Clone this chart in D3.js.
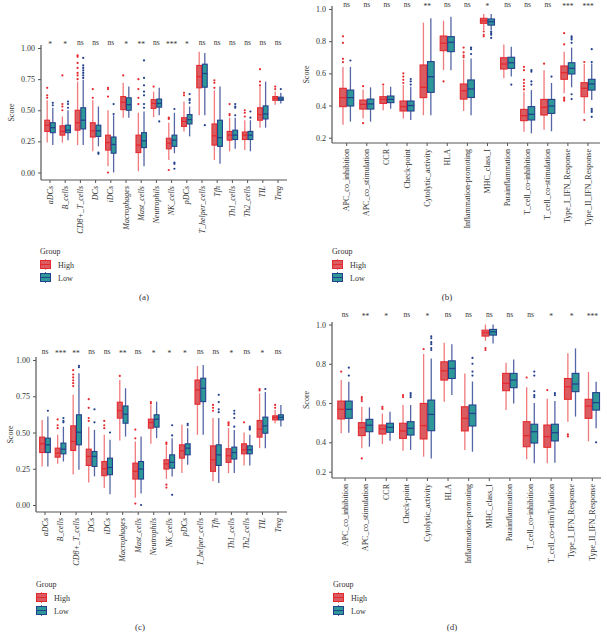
<!DOCTYPE html>
<html><head><meta charset="utf-8">
<script src="https://cdn.jsdelivr.net/npm/d3@7"></script>
<style>body{margin:0;background:#fff}text{font-family:"Liberation Serif","DejaVu Serif",serif}</style>
</head><body>
<svg id="c" width="607" height="635"></svg>
<script>
const cellTypes = ["aDCs","B_cells","CD8+_T_cells","DCs","iDCs","Macrophages","Mast_cells","Neutrophils","NK_cells","pDCs","T_helper_cells","Tfh","Th1_cells","Th2_cells","TIL","Treg"];
const functionsB = ["APC_co_inhibition","APC_co_stimulation","CCR","Check-point","Cytolytic_activity","HLA","Inflammation-promoting","MHC_class_I","Parainflammation","T_cell_co-inhibition","T_cell_co-stimulation","Type_I_IFN_Response","Type_II_IFN_Response"];
const functionsD = ["APC_co_inhibition","APC_co_stimulation","CCR","Check-point","Cytolytic_activity","HLA","Inflammation-promoting","MHC_class_I","Parainflammation","T_cell_co-inhibition","T_cell_co-stimTyulation","Type_I_IFN_Response","Type_II_IFN_Response"];
const groups = ["High","Low"];
const ticksAC = [0,0.25,0.5,0.75,1];
const ticksBD = [0.2,0.4,0.6,0.8,1.0];
const sigA = ["*","*","ns","ns","ns","*","**","ns","***","*","ns","ns","ns","ns","ns","ns"];
const sigB = ["ns","ns","ns","ns","**","ns","ns","*","ns","ns","ns","***","***"];
const sigC = ["ns","***","**","ns","ns","**","ns","*","*","*","ns","ns","*","ns","*","ns"];
const sigD = ["ns","**","*","ns","*","ns","ns","ns","ns","ns","*","*","***"];
// each box: [lower whisker, Q1, median, Q3, upper whisker, outliers]
const highA = [
 [0.24,0.33,0.38,0.42,0.58,[0.60,0.62,0.68]],
 [0.24,0.30,0.33,0.375,0.45,[0.50,0.53,0.55,0.78]],
 [0.22,0.34,0.40,0.50,0.73,[0.75,0.78,0.80,0.84,0.88,0.93,0.94]],
 [0.17,0.285,0.335,0.40,0.58,[0.60,0.67]],
 [0.05,0.18,0.24,0.30,0.50,[0.00,0.61,0.67,0.68]],
 [0.44,0.505,0.565,0.61,0.72,[0.78]],
 [0.01,0.16,0.22,0.30,0.48,[0.55,0.60,0.67,0.75]],
 [0.445,0.515,0.555,0.585,0.65,[0.69]],
 [0.10,0.19,0.235,0.275,0.40,[0.02,0.43,0.44]],
 [0.33,0.37,0.41,0.44,0.57,[0.62,0.64]],
 [0.46,0.68,0.77,0.86,0.97,[]],
 [0.10,0.22,0.295,0.39,0.66,[0.68,0.72,0.74]],
 [0.17,0.26,0.30,0.33,0.44,[0.46,0.47,0.55]],
 [0.18,0.265,0.30,0.325,0.42,[0.45,0.48,0.50]],
 [0.36,0.42,0.465,0.52,0.69,[0.70,0.73,0.83]],
 [0.545,0.58,0.595,0.61,0.65,[0.67,0.69]]
];
const lowA = [
 [0.22,0.32,0.36,0.40,0.52,[0.54,0.56]],
 [0.26,0.32,0.34,0.38,0.50,[0.52,0.55,0.57]],
 [0.22,0.35,0.42,0.52,0.745,[0.76,0.78,0.80,0.82,0.84,0.86,0.92]],
 [0.21,0.29,0.335,0.38,0.53,[0.15,0.16]],
 [0.00,0.155,0.225,0.285,0.46,[0.47,0.55]],
 [0.44,0.50,0.545,0.60,0.69,[]],
 [0.05,0.20,0.255,0.32,0.49,[0.52,0.55,0.62,0.65,0.70,0.76,0.90]],
 [0.46,0.525,0.555,0.59,0.68,[0.41]],
 [0.155,0.21,0.26,0.30,0.48,[0.03,0.07,0.08,0.51]],
 [0.29,0.39,0.425,0.465,0.53,[0.56,0.58,0.59,0.63]],
 [0.46,0.685,0.795,0.87,0.96,[0.38]],
 [0.07,0.21,0.28,0.42,0.69,[]],
 [0.19,0.265,0.30,0.34,0.44,[0.46,0.52,0.53,0.55]],
 [0.17,0.265,0.30,0.33,0.42,[0.44,0.49]],
 [0.36,0.43,0.47,0.535,0.73,[]],
 [0.555,0.58,0.59,0.605,0.64,[0.67]]
];
const highB = [
 [0.28,0.393,0.449,0.507,0.64,[0.67,0.69,0.79,0.83]],
 [0.32,0.378,0.407,0.434,0.50,[0.29,0.52]],
 [0.37,0.413,0.438,0.455,0.52,[0.53]],
 [0.32,0.366,0.393,0.428,0.527,[0.54,0.56,0.58,0.60]],
 [0.34,0.449,0.513,0.652,0.915,[]],
 [0.62,0.741,0.787,0.832,0.927,[0.55]],
 [0.366,0.44,0.492,0.534,0.687,[0.70,0.71,0.73,0.76]],
 [0.87,0.911,0.927,0.942,0.969,[0.83,0.84,0.86]],
 [0.57,0.627,0.658,0.697,0.78,[]],
 [0.237,0.306,0.337,0.376,0.486,[0.50,0.52,0.54,0.56,0.62,0.64]],
 [0.25,0.341,0.389,0.438,0.62,[0.66]],
 [0.476,0.563,0.604,0.646,0.735,[0.43,0.44,0.45,0.78,0.85]],
 [0.35,0.455,0.507,0.542,0.658,[0.31,0.67]]
];
const lowB = [
 [0.30,0.397,0.449,0.496,0.64,[0.68]],
 [0.30,0.378,0.41,0.44,0.513,[]],
 [0.38,0.418,0.438,0.459,0.517,[]],
 [0.31,0.366,0.40,0.428,0.517,[0.53,0.55,0.565]],
 [0.34,0.482,0.579,0.673,0.942,[]],
 [0.62,0.735,0.793,0.828,0.952,[]],
 [0.34,0.45,0.503,0.559,0.693,[0.72,0.75,0.76]],
 [0.87,0.90,0.921,0.938,0.969,[0.82,0.84,0.85,0.86]],
 [0.58,0.631,0.666,0.70,0.766,[0.53]],
 [0.227,0.31,0.345,0.393,0.496,[0.53,0.55,0.61,0.62]],
 [0.24,0.351,0.397,0.438,0.54,[0.58]],
 [0.513,0.596,0.631,0.666,0.76,[0.44,0.47,0.79,0.81,0.82,0.83]],
 [0.434,0.496,0.534,0.563,0.662,[0.33,0.36,0.37,0.38,0.67,0.75]]
];
const highC = [
 [0.266,0.362,0.422,0.468,0.587,[]],
 [0.284,0.33,0.358,0.392,0.484,[0.53,0.55,0.59]],
 [0.21,0.376,0.438,0.546,0.76,[0.82,0.84,0.86,0.88,0.90,0.93]],
 [0.156,0.273,0.335,0.385,0.54,[0.58,0.60,0.67,0.73]],
 [0.117,0.202,0.25,0.30,0.484,[0.53,0.55,0.58]],
 [0.445,0.599,0.651,0.709,0.862,[0.89]],
 [0.05,0.179,0.232,0.289,0.438,[0.01,0.46,0.52]],
 [0.422,0.53,0.569,0.592,0.69,[0.70,0.71]],
 [0.18,0.248,0.284,0.312,0.41,[0.12,0.14,0.42,0.43]],
 [0.22,0.323,0.374,0.415,0.553,[]],
 [0.484,0.695,0.794,0.862,0.959,[]],
 [0.163,0.232,0.312,0.408,0.60,[0.65,0.67,0.69]],
 [0.22,0.294,0.34,0.388,0.53,[0.55,0.56,0.57]],
 [0.273,0.353,0.381,0.422,0.50,[0.57]],
 [0.392,0.468,0.523,0.583,0.77,[0.79,0.80]],
 [0.564,0.587,0.603,0.615,0.656,[0.67,0.69]]
];
const lowC = [
 [0.266,0.362,0.415,0.461,0.61,[0.65]],
 [0.30,0.353,0.385,0.427,0.54,[0.57,0.58,0.60]],
 [0.243,0.415,0.502,0.622,0.908,[0.95,0.96]],
 [0.197,0.266,0.335,0.369,0.518,[0.57,0.66]],
 [0.075,0.209,0.259,0.323,0.45,[0.50]],
 [0.472,0.564,0.626,0.683,0.805,[]],
 [0.08,0.179,0.248,0.30,0.472,[0.00]],
 [0.461,0.537,0.592,0.622,0.713,[]],
 [0.197,0.254,0.294,0.346,0.46,[0.07,0.48,0.55]],
 [0.278,0.346,0.392,0.422,0.53,[0.55,0.56]],
 [0.484,0.713,0.805,0.874,0.966,[]],
 [0.151,0.273,0.346,0.415,0.60,[0.64,0.66,0.71,0.76]],
 [0.22,0.317,0.362,0.399,0.518,[0.54,0.60,0.63,0.65]],
 [0.273,0.353,0.381,0.408,0.484,[0.52,0.53,0.54]],
 [0.392,0.495,0.546,0.606,0.78,[0.80]],
 [0.541,0.587,0.605,0.622,0.69,[]]
];
const highD = [
 [0.446,0.519,0.568,0.61,0.717,[0.76]],
 [0.36,0.434,0.475,0.50,0.581,[0.29,0.61,0.62,0.63]],
 [0.389,0.442,0.468,0.488,0.547,[0.57,0.58]],
 [0.343,0.42,0.458,0.497,0.59,[0.63,0.64]],
 [0.302,0.417,0.485,0.598,0.85,[0.875]],
 [0.607,0.717,0.764,0.81,0.907,[]],
 [0.348,0.458,0.522,0.581,0.75,[]],
 [0.917,0.941,0.958,0.971,1.0,[0.87,0.88]],
 [0.564,0.663,0.70,0.751,0.805,[]],
 [0.284,0.37,0.434,0.505,0.68,[0.73]],
 [0.257,0.366,0.429,0.488,0.622,[0.666]],
 [0.505,0.619,0.683,0.725,0.853,[0.43,0.44]],
 [0.405,0.522,0.585,0.619,0.759,[]]
];
const lowD = [
 [0.449,0.522,0.568,0.61,0.708,[0.74,0.78]],
 [0.37,0.454,0.487,0.517,0.578,[]],
 [0.408,0.451,0.476,0.497,0.556,[]],
 [0.348,0.437,0.471,0.505,0.59,[0.63,0.64,0.65]],
 [0.29,0.459,0.542,0.615,0.827,[0.87,0.88,0.90,0.91,0.93,0.94]],
 [0.641,0.725,0.776,0.815,0.90,[]],
 [0.336,0.483,0.547,0.59,0.71,[0.74,0.76,0.80,0.83]],
 [0.903,0.946,0.963,0.975,1.0,[]],
 [0.598,0.678,0.717,0.751,0.822,[]],
 [0.257,0.395,0.454,0.492,0.60,[0.63,0.64,0.66,0.74,0.76]],
 [0.261,0.407,0.449,0.492,0.61,[0.64,0.65]],
 [0.531,0.658,0.697,0.751,0.878,[]],
 [0.471,0.564,0.602,0.653,0.708,[0.40]]
];

const col = {
  High:{fill:"#DB5C60", stroke:"#E52A2F", whisk:"#F07A7C", pt:"#E52A2F"},
  Low:{fill:"#2E9898", stroke:"#23418D", whisk:"#5566A6", pt:"#23418D"}
};
const axisCol = "#555";
const svg = d3.select("#c");

const panels = [
 {cats:cellTypes, sig:sigA, data:[highA,lowA], c0:50, c1:278, ax:41, right:287, top:45, bottom:180,
  y:d3.scaleLinear().domain([0,1]).range([172.5,48]), ticks:ticksAC, fmt:d3.format(".2f"), italic:true,
  sigY:45, scoreX:11, lgX:40, lgY:254, label:"(a)", labX:144, labY:300},
 {cats:functionsB, sig:sigB, data:[highB,lowB], c0:346.7, c1:588, ax:332, right:600, top:6, bottom:143,
  y:d3.scaleLinear().domain([0.2,1]).range([137.7,9]), ticks:ticksBD, fmt:d3.format(".1f"), italic:false,
  sigY:7, scoreX:306, lgX:332, lgY:254, label:"(b)", labX:447, labY:300},
 {cats:cellTypes, sig:sigC, data:[highC,lowC], c0:45, c1:278, ax:36, right:287, top:357, bottom:512,
  y:d3.scaleLinear().domain([0,1]).range([505,360]), ticks:ticksAC, fmt:d3.format(".2f"), italic:true,
  sigY:354, scoreX:10, lgX:36, lgY:587, label:"(c)", labX:140, labY:630},
 {cats:functionsD, sig:sigD, data:[highD,lowD], c0:345, c1:592.3, ax:332, right:601, top:322, bottom:478,
  y:d3.scaleLinear().domain([0.2,0.4,1.0]).range([471.7,442.3,324.5]), ticks:ticksBD, fmt:d3.format(".1f"), italic:false,
  sigY:317, scoreX:306, lgX:333, lgY:587, label:"(d)", labX:452, labY:630}
];

panels.forEach(p => {
  const n = p.cats.length;
  const step = (p.c1 - p.c0)/(n-1);
  const x = d3.scaleBand().domain(p.cats).range([p.c0-step/2, p.c1+step/2]).padding(0);
  const bw = step*0.37;
  const g = svg.append("g");

  const ya = g.append("g").attr("transform",`translate(${p.ax},0)`)
    .call(d3.axisLeft(p.y).tickValues(p.ticks).tickFormat(p.fmt).tickSize(3).tickPadding(3));
  ya.select(".domain").remove();
  ya.selectAll(".tick line").attr("stroke",axisCol);
  ya.selectAll(".tick text").attr("font-size",8).attr("fill","#333").attr("font-family","Liberation Serif, serif");
  g.append("line").attr("x1",p.ax).attr("x2",p.ax).attr("y1",p.top).attr("y2",p.bottom).attr("stroke",axisCol).attr("stroke-width",1.2);
  const xa = g.append("g").attr("transform",`translate(0,${p.bottom})`)
    .call(d3.axisBottom(x).tickSize(3).tickPadding(3));
  xa.select(".domain").remove();
  xa.selectAll(".tick line").attr("stroke",axisCol);
  xa.selectAll(".tick text").attr("font-size",8).attr("fill","#333")
    .attr("font-family","Liberation Serif, serif")
    .attr("font-style", p.italic ? "italic":"normal")
    .attr("text-anchor","end").attr("dy","0.32em")
    .attr("transform","translate(0,3) rotate(-90)").attr("x",-3).attr("y",0);
  g.append("line").attr("x1",p.ax).attr("x2",p.right).attr("y1",p.bottom).attr("y2",p.bottom).attr("stroke",axisCol).attr("stroke-width",1.2);

  const my = (p.top+p.bottom)/2;
  g.append("text").attr("transform",`translate(${p.scoreX},${my}) rotate(-90)`).attr("text-anchor","middle")
   .attr("dy","0.35em").attr("font-size",8).attr("fill","#333").text("Score");

  groups.forEach((grp, gi) => {
    const c = col[grp];
    const arr = p.data[gi];
    p.cats.forEach((cat, i) => {
      const d = arr[i];
      const cx = x(cat) + x.bandwidth()/2 + (gi===0 ? -bw/2 : bw/2);
      const bg = g.append("g");
      bg.append("line").attr("x1",cx).attr("x2",cx).attr("y1",p.y(d[0])).attr("y2",p.y(d[1]))
        .attr("stroke",c.whisk).attr("stroke-width",1.3);
      bg.append("line").attr("x1",cx).attr("x2",cx).attr("y1",p.y(d[3])).attr("y2",p.y(d[4]))
        .attr("stroke",c.whisk).attr("stroke-width",1.3);
      bg.append("rect").attr("x",cx-bw/2+0.4).attr("width",bw-0.8)
        .attr("y",p.y(d[3])).attr("height",Math.max(0.5,p.y(d[1])-p.y(d[3])))
        .attr("fill",c.fill).attr("stroke",c.stroke).attr("stroke-width",1.1);
      bg.append("line").attr("x1",cx-bw/2+0.4).attr("x2",cx+bw/2-0.4).attr("y1",p.y(d[2])).attr("y2",p.y(d[2]))
        .attr("stroke",c.stroke).attr("stroke-width",1.3);
      bg.selectAll("circle").data(d[5]).enter().append("circle")
        .attr("cx",cx).attr("cy",v=>p.y(v)).attr("r",1.1).attr("fill",c.pt);
    });
  });

  g.selectAll("text.sig").data(p.cats).enter().append("text").attr("class","sig")
   .attr("x",cat=>x(cat)+x.bandwidth()/2).attr("y",(cat,i)=>p.sig[i]==="ns"?p.sigY:p.sigY+1.5)
   .attr("text-anchor","middle").attr("font-size",7.5).attr("fill","#333")
   .text((cat,i)=>p.sig[i]);

  const lg = g.append("g").attr("transform",`translate(${p.lgX},${p.lgY})`);
  lg.append("text").attr("x",0).attr("y",0).attr("font-size",8).attr("fill","#333").text("Group");
  groups.forEach((grp,gi)=>{
    const c = col[grp];
    const yy = 5 + gi*13;
    const kg = lg.append("g").attr("transform",`translate(0,${yy})`);
    kg.append("line").attr("x1",5.5).attr("x2",5.5).attr("y1",0).attr("y2",11).attr("stroke",c.whisk).attr("stroke-width",1);
    kg.append("rect").attr("x",0.5).attr("y",1.5).attr("width",10).attr("height",8).attr("fill",c.fill).attr("stroke",c.stroke).attr("stroke-width",1);
    kg.append("line").attr("x1",0.5).attr("x2",10.5).attr("y1",5.5).attr("y2",5.5).attr("stroke",c.stroke).attr("stroke-width",1);
    lg.append("text").attr("x",18).attr("y",yy+8.5).attr("font-size",8).attr("fill","#333").text(grp);
  });

  g.append("text").attr("x",p.labX).attr("y",p.labY).attr("text-anchor","middle").attr("font-size",9).attr("fill","#333").text(p.label);
});
</script>
</body></html>
